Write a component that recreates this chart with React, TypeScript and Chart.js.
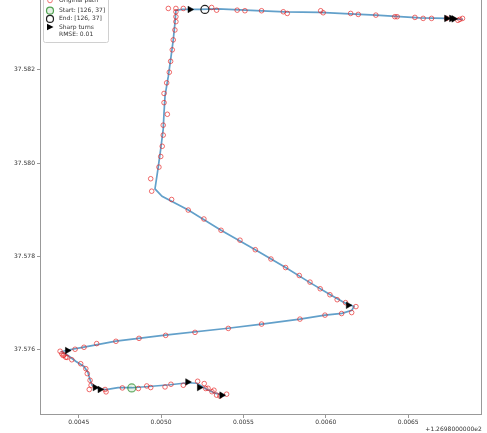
import React, { useEffect, useRef } from "react";
import { Chart, registerables } from "chart.js";

Chart.register(...registerables);

// Smoothed path (longitude, latitude)
const smoothLon = [126.985388, 126.985327, 126.985266, 126.985218, 126.985163, 126.985054, 126.984945, 126.984823, 126.984739, 126.984666, 126.984611, 126.984581, 126.984566, 126.984556, 126.984532, 126.984484, 126.984435, 126.984411, 126.984399, 126.984435, 126.984532, 126.984726, 126.985024, 126.985406, 126.985612, 126.985843, 126.985995, 126.986098, 126.986158, 126.986171, 126.986116, 126.986025, 126.985904, 126.985756, 126.985572, 126.985364, 126.985165, 126.985006, 126.984963, 126.984981, 126.984998, 126.985013, 126.985018, 126.985024, 126.985044, 126.985058, 126.985074, 126.985084, 126.98509, 126.985127, 126.985236, 126.985345, 126.985479, 126.985612, 126.985752, 126.985964, 126.986146, 126.986304, 126.986425, 126.986571, 126.986735, 126.986832];
const smoothLat = [37.575019, 37.575072, 37.575178, 37.575285, 37.575295, 37.575253, 37.575221, 37.575189, 37.575189, 37.575147, 37.575178, 37.575242, 37.575391, 37.575518, 37.575645, 37.575752, 37.575879, 37.575932, 37.575964, 37.575996, 37.576059, 37.576187, 37.576314, 37.576463, 37.576552, 37.576658, 37.576743, 37.576781, 37.576845, 37.57693, 37.577004, 37.577185, 37.577439, 37.577762, 37.578144, 37.57856, 37.578993, 37.579286, 37.579446, 37.57987, 37.580301, 37.580726, 37.58108, 37.581441, 37.58186, 37.582212, 37.582637, 37.582991, 37.583267, 37.583288, 37.583288, 37.583299, 37.583278, 37.583256, 37.583235, 37.583225, 37.583193, 37.583167, 37.58314, 37.583108, 37.583097, 37.583076];

// Raw GPS points
const rawLon = [126.985398, 126.985357, 126.985337, 126.985321, 126.985309, 126.985285, 126.985271, 126.985262, 126.985222, 126.985135, 126.98506, 126.985024, 126.984937, 126.984913, 126.984862, 126.984765, 126.984666, 126.98466, 126.984564, 126.984575, 126.984569, 126.984552, 126.984543, 126.984512, 126.984458, 126.984429, 126.984421, 126.984411, 126.984405, 126.984397, 126.984387, 126.984478, 126.984532, 126.984609, 126.984726, 126.984866, 126.985028, 126.985206, 126.985408, 126.98561, 126.985843, 126.985995, 126.986096, 126.986157, 126.986183, 126.98612, 126.986069, 126.986025, 126.985966, 126.985904, 126.985839, 126.985756, 126.985667, 126.985572, 126.985479, 126.985364, 126.98526, 126.985165, 126.985064, 126.984943, 126.984937, 126.984987, 126.984998, 126.985007, 126.985013, 126.985013, 126.985038, 126.985018, 126.985018, 126.985034, 126.98505, 126.985058, 126.985068, 126.985074, 126.985084, 126.98509, 126.98509, 126.98509, 126.98509, 126.985044, 126.985135, 126.985307, 126.985337, 126.985462, 126.985509, 126.98561, 126.985742, 126.985766, 126.985969, 126.985984, 126.986151, 126.986197, 126.986304, 126.986419, 126.986433, 126.986541, 126.986591, 126.986642, 126.986733, 126.986802, 126.986814, 126.98683];
const rawLat = [37.575051, 37.575009, 37.57503, 37.575136, 37.575104, 37.575178, 37.575172, 37.575278, 37.575327, 37.575242, 37.575263, 37.575206, 37.575193, 37.575227, 37.575172, 37.575185, 37.5751, 37.575151, 37.575151, 37.575242, 37.575348, 37.575491, 37.575597, 37.575703, 37.575788, 37.575837, 37.575843, 37.57589, 37.575879, 37.575915, 37.57597, 37.576013, 37.576055, 37.576134, 37.576183, 37.576246, 37.57631, 37.576374, 37.576459, 37.576552, 37.576658, 37.576743, 37.576777, 37.576798, 37.576926, 37.577011, 37.577074, 37.57718, 37.577308, 37.57745, 37.577592, 37.577762, 37.577945, 37.578144, 37.578348, 37.57856, 37.578802, 37.578993, 37.579219, 37.579397, 37.579664, 37.579913, 37.58014, 37.580359, 37.580598, 37.580811, 37.581044, 37.581293, 37.58149, 37.581717, 37.581944, 37.582178, 37.582424, 37.582637, 37.582849, 37.583027, 37.583133, 37.583239, 37.58331, 37.58331, 37.58331, 37.583331, 37.583273, 37.583273, 37.583261, 37.583261, 37.583239, 37.583203, 37.583261, 37.583218, 37.583203, 37.583182, 37.583167, 37.583133, 37.583133, 37.583118, 37.583097, 37.583097, 37.583097, 37.583055, 37.583076, 37.583097];

// Sharp turns
const turnLon = [126.985368, 126.985232, 126.985161, 126.984629, 126.984599, 126.984431, 126.986136, 126.985175, 126.986733, 126.986763, 126.986777];
const turnLat = [37.57503, 37.575193, 37.575312, 37.575151, 37.575193, 37.575985, 37.576955, 37.583288, 37.583097, 37.583097, 37.583087];

const startLon = [126.984822];
const startLat = [37.575185];
const endLon = [126.985266];
const endLat = [37.583288];

const xTicks = [126.9845, 126.985, 126.9855, 126.986, 126.9865];
const yTicks = [37.576, 37.578, 37.58, 37.582];
const X_OFFSET = 126.98;
const offsetLabel = "+1.2698000000e2";
const legendLabels = ["Smoothed path", "Original path", "Start: [126, 37]", "End: [126, 37]", "Sharp turns", "RMSE: 0.01"];

const pts = (xs: number[], ys: number[]) => xs.map((x, i) => ({ x, y: ys[i] }));

const FONT = '"DejaVu Sans", sans-serif';

const decorPlugin = {
  id: "decor",
  afterDraw(chart: any) {
    const { ctx, chartArea: a } = chart;
    ctx.save();
    // frame
    ctx.strokeStyle = "#999";
    ctx.lineWidth = 1;
    ctx.strokeRect(Math.round(a.left) + 0.5, Math.round(a.top) + 0.5, Math.round(a.right - a.left) - 1, Math.round(a.bottom - a.top) - 1);
    // offset text
    ctx.font = `6px ${FONT}`;
    ctx.fillStyle = "#333";
    ctx.textAlign = "right";
    ctx.textBaseline = "middle";
    ctx.fillText(offsetLabel, a.right, a.bottom + 14);
    // legend
    const bx = 43, by = 2, bw = 65, bh = 55;
    ctx.fillStyle = "rgba(255,255,255,0.85)";
    ctx.strokeStyle = "#d0d0d0";
    ctx.beginPath();
    ctx.roundRect(bx + 0.5, by + 0.5, bw, bh, 2);
    ctx.fill();
    ctx.stroke();
    const mx = 50;
    const tx = 59;
    const rowY = [7, 15.5, 25.7, 33.9, 42, 49.5];
    legendLabels.forEach((label, i) => {
      const y = rowY[i];
      ctx.lineWidth = 1;
      if (i === 0) {
        ctx.strokeStyle = "rgba(31,119,180,0.7)";
        ctx.lineWidth = 2;
        ctx.beginPath();
        ctx.moveTo(mx - 5, y);
        ctx.lineTo(mx + 5, y);
        ctx.stroke();
      } else if (i === 1) {
        ctx.strokeStyle = "rgba(230,30,30,0.6)";
        ctx.beginPath();
        ctx.arc(mx, y, 2.3, 0, Math.PI * 2);
        ctx.stroke();
      } else if (i === 2) {
        ctx.strokeStyle = "rgba(40,140,40,0.8)";
        ctx.fillStyle = "rgba(40,140,40,0.12)";
        ctx.lineWidth = 1.2;
        ctx.beginPath();
        ctx.arc(mx, y, 3.5, 0, Math.PI * 2);
        ctx.fill();
        ctx.stroke();
      } else if (i === 3) {
        ctx.strokeStyle = "#222";
        ctx.lineWidth = 1.2;
        ctx.beginPath();
        ctx.arc(mx, y, 3.5, 0, Math.PI * 2);
        ctx.stroke();
      } else if (i === 4) {
        ctx.fillStyle = "#000";
        ctx.beginPath();
        ctx.moveTo(mx + 3.5, y);
        ctx.lineTo(mx - 3, y - 3.2);
        ctx.lineTo(mx - 3, y + 3.2);
        ctx.closePath();
        ctx.fill();
      }
      ctx.fillStyle = "#333";
      ctx.textAlign = "left";
      ctx.textBaseline = "middle";
      ctx.font = `6px ${FONT}`;
      ctx.fillText(label, tx, y);
    });
    ctx.restore();
  },
};

export default function App() {
  const ref = useRef<HTMLCanvasElement | null>(null);

  useEffect(() => {
    if (!ref.current) return;
    const chart = new Chart(ref.current, {
      type: "scatter",
      data: {
        datasets: [
          {
            label: "Start",
            data: pts(startLon, startLat),
            pointRadius: 4,
            borderWidth: 1.2,
            borderColor: "rgba(40,140,40,0.7)",
            backgroundColor: "rgba(40,140,40,0.12)",
          },
          {
            label: "End",
            data: pts(endLon, endLat),
            pointRadius: 4,
            borderWidth: 1.2,
            borderColor: "#222",
            backgroundColor: "rgba(0,0,0,0)",
          },
          {
            label: "Sharp turns",
            data: pts(turnLon, turnLat),
            pointStyle: "triangle",
            rotation: 90,
            pointRadius: 3.8,
            borderWidth: 0.5,
            borderColor: "#000",
            backgroundColor: "#000",
          },
          {
            label: "Original path",
            data: pts(rawLon, rawLat),
            pointRadius: 2.3,
            borderWidth: 1,
            borderColor: "rgba(230,30,30,0.65)",
            backgroundColor: "rgba(0,0,0,0)",
          },
          {
            label: "Smoothed path",
            data: pts(smoothLon, smoothLat),
            showLine: true,
            pointRadius: 0,
            borderWidth: 1.7,
            borderColor: "rgba(31,119,180,0.7)",
            backgroundColor: "rgba(31,119,180,0.7)",
            tension: 0,
          },
        ],
      },
      options: {
        animation: false,
        responsive: false,
        maintainAspectRatio: false,
        devicePixelRatio: 1,
        layout: { padding: { top: 2, right: 5, left: 0, bottom: 0 } },
        plugins: { legend: { display: false }, tooltip: { enabled: false } },
        scales: {
          x: {
            type: "linear",
            min: 126.984265,
            max: 126.986947,
            afterBuildTicks: (s: any) => {
              s.ticks = xTicks.map((v) => ({ value: v }));
            },
            afterFit: (s: any) => {
              s.height = 18;
            },
            grid: { drawOnChartArea: false, drawTicks: true, tickLength: 3, color: "#999" },
            border: { display: false },
            ticks: {
              padding: 1,
              color: "#333",
              font: { family: FONT, size: 6 },
              maxRotation: 0,
              autoSkip: false,
              callback: (v: any) => (Number(v) - X_OFFSET).toFixed(4),
            },
          },
          y: {
            type: "linear",
            min: 37.574605,
            max: 37.583692,
            afterBuildTicks: (s: any) => {
              s.ticks = yTicks.map((v) => ({ value: v }));
            },
            afterFit: (s: any) => {
              s.width = 40;
            },
            grid: { drawOnChartArea: false, drawTicks: true, tickLength: 3, color: "#999" },
            border: { display: false },
            ticks: {
              padding: 2,
              color: "#333",
              font: { family: FONT, size: 6 },
              autoSkip: false,
              callback: (v: any) => Number(v).toFixed(3),
            },
          },
        },
      },
      plugins: [decorPlugin],
    });
    return () => chart.destroy();
  }, []);

  return (
    <div style={{ position: "fixed", left: 0, top: -15, width: 487, height: 448, background: "#fff" }}>
      <canvas ref={ref} width={487} height={448} style={{ display: "block", width: 487, height: 448 }} />
    </div>
  );
}
